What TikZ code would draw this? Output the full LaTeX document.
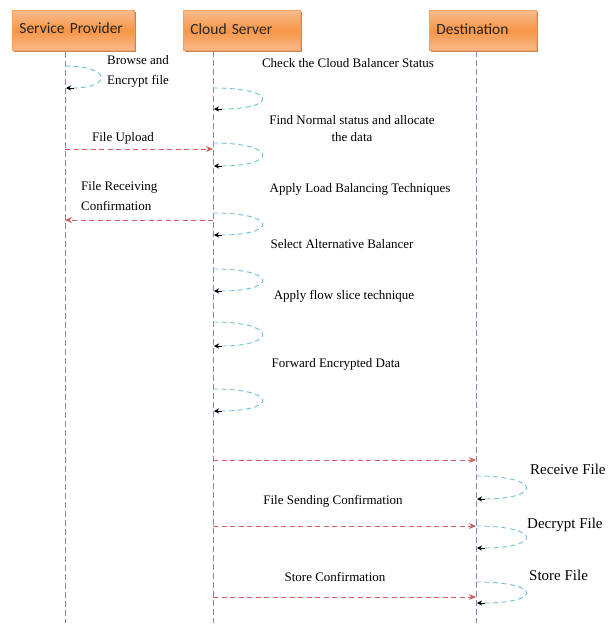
\documentclass[tikz,border=0pt]{standalone}
\usepackage{fontspec}
\setmainfont{Liberation Serif}
\newfontfamily\boxfont{Carlito}
\usetikzlibrary{arrows.meta,shadows,calc}
\definecolor{boxtop}{HTML}{F9BC8E}
\definecolor{boxmid}{HTML}{F79646}
\definecolor{boxbot}{HTML}{FAB88A}
\definecolor{boxline}{HTML}{F7A060}
\definecolor{boxshadow}{HTML}{B8652A}
\definecolor{lifec}{HTML}{9080B8}
\definecolor{msgc}{HTML}{D0605C}
\definecolor{loopc}{HTML}{6EC0D6}
\tikzset{
  actor/.style={draw=boxline, line width=0.8pt, top color=boxtop, bottom color=boxbot, middle color=boxmid,
    minimum height=40pt, anchor=north west, align=left, inner xsep=7pt,
    font=\boxfont\fontsize{15.5}{17}\selectfont, text=black!85,
    general shadow={shadow xshift=2pt, shadow yshift=-2pt, fill=boxshadow, opacity=0.8}},
  lifeline/.style={draw=lifec, line width=0.9pt, dash pattern=on 6pt off 3pt},
  msg/.style={draw=msgc, line width=0.9pt, dash pattern=on 5pt off 3.5pt, -{Stealth[length=7pt,width=6pt]}},
  selfloop/.style={draw=loopc, line width=0.9pt, dash pattern=on 5pt off 3.5pt},
  looptip/.style={draw=black, line width=0.9pt, -{Stealth[length=5pt,width=5pt]}},
  lbl/.style={font=\fontsize{13}{15}\selectfont, inner sep=0pt, align=center},
  lbll/.style={font=\fontsize{13}{20}\selectfont, inner sep=0pt, align=left, anchor=west},
  lblbig/.style={font=\fontsize{15}{17}\selectfont, inner sep=0pt, anchor=west},
}
\newcommand{\selfloop}[4]{% lifeline name, y start, y end, right x
  \draw[selfloop] (#1 |- 0,#2) .. controls (#4,#2) and (#4,#3) .. ($(#1 |- 0,#3)+(8,0)$);
  \draw[looptip] ($(#1 |- 0,#3)+(9,0)$) -- ($(#1 |- 0,#3)+(1,0)$);
}
\begin{document}
\begin{tikzpicture}[x=1pt,y=-1pt]
\useasboundingbox (0,0) rectangle (612,627);
% actors
\node[actor, text width=108pt] (sp) at (12,10) {\raisebox{4pt}{Service Provider}};
\node[actor, text width=103pt] (cs) at (183,10) {\raisebox{3pt}{Cloud Server}};
\node[actor, text width=93pt] (ds) at (429,10) {\raisebox{3pt}{Destination}};
% lifelines
\coordinate (spL) at (65,52);
\coordinate (csL) at (213,51);
\coordinate (dsL) at (476,51);
\coordinate (spE) at (65,623);
\coordinate (csE) at (213,623);
\coordinate (dsE) at (476,623);
\draw[lifeline] (spL) -- (spE);
\draw[lifeline] (csL) -- (csE);
\draw[lifeline] (dsL) -- (dsE);
% self loops
\selfloop{spL}{66}{88}{112}
\selfloop{csL}{88}{109}{278}
\selfloop{csL}{143}{166}{278}
\selfloop{csL}{213}{235}{278}
\selfloop{csL}{269}{291}{278}
\selfloop{csL}{322}{346}{278}
\selfloop{csL}{389}{411}{278}
\selfloop{dsL}{476}{499}{542}
\selfloop{dsL}{526}{548}{542}
\selfloop{dsL}{582}{603}{542}
% messages
\draw[msg] (spL |- 0,149) -- (csL |- 0,149);
\draw[msg] (csL |- 0,220) -- (spL |- 0,220);
\draw[msg] (csL |- 0,460) -- (dsL |- 0,460);
\draw[msg] (csL |- 0,526) -- (dsL |- 0,526);
\draw[msg] (csL |- 0,597) -- (dsL |- 0,597);
% labels
\node[lbll] (l1) at (107,71) {Browse and\\Encrypt file};
\node[lbl] (l2) at (348,63) {Check the Cloud Balancer Status};
\node[lbl] (l3) at (352,129) {Find Normal status and allocate\\[2pt]the data};
\node[lbl] (l4) at (123,138) {File Upload};
\node[lbll] (l5) at (81,196) {File Receiving\\Confirmation};
\node[lbl] (l6) at (360,189) {Apply Load Balancing Techniques};
\node[lbl] (l7) at (342,244) {Select Alternative Balancer};
\node[lbl] (l8) at (344,296) {Apply flow slice technique};
\node[lbl] (l9) at (336,364) {Forward Encrypted Data};
\node[lbl] (l10) at (333,501) {File Sending Confirmation};
\node[lbl] (l11) at (335,577) {Store Confirmation};
\node[lblbig] (l12) at (530,469) {Receive File};
\node[lblbig] (l13) at (527,525) {Decrypt File};
\node[lblbig] (l14) at (529,575) {Store File};
\end{tikzpicture}
\end{document}
